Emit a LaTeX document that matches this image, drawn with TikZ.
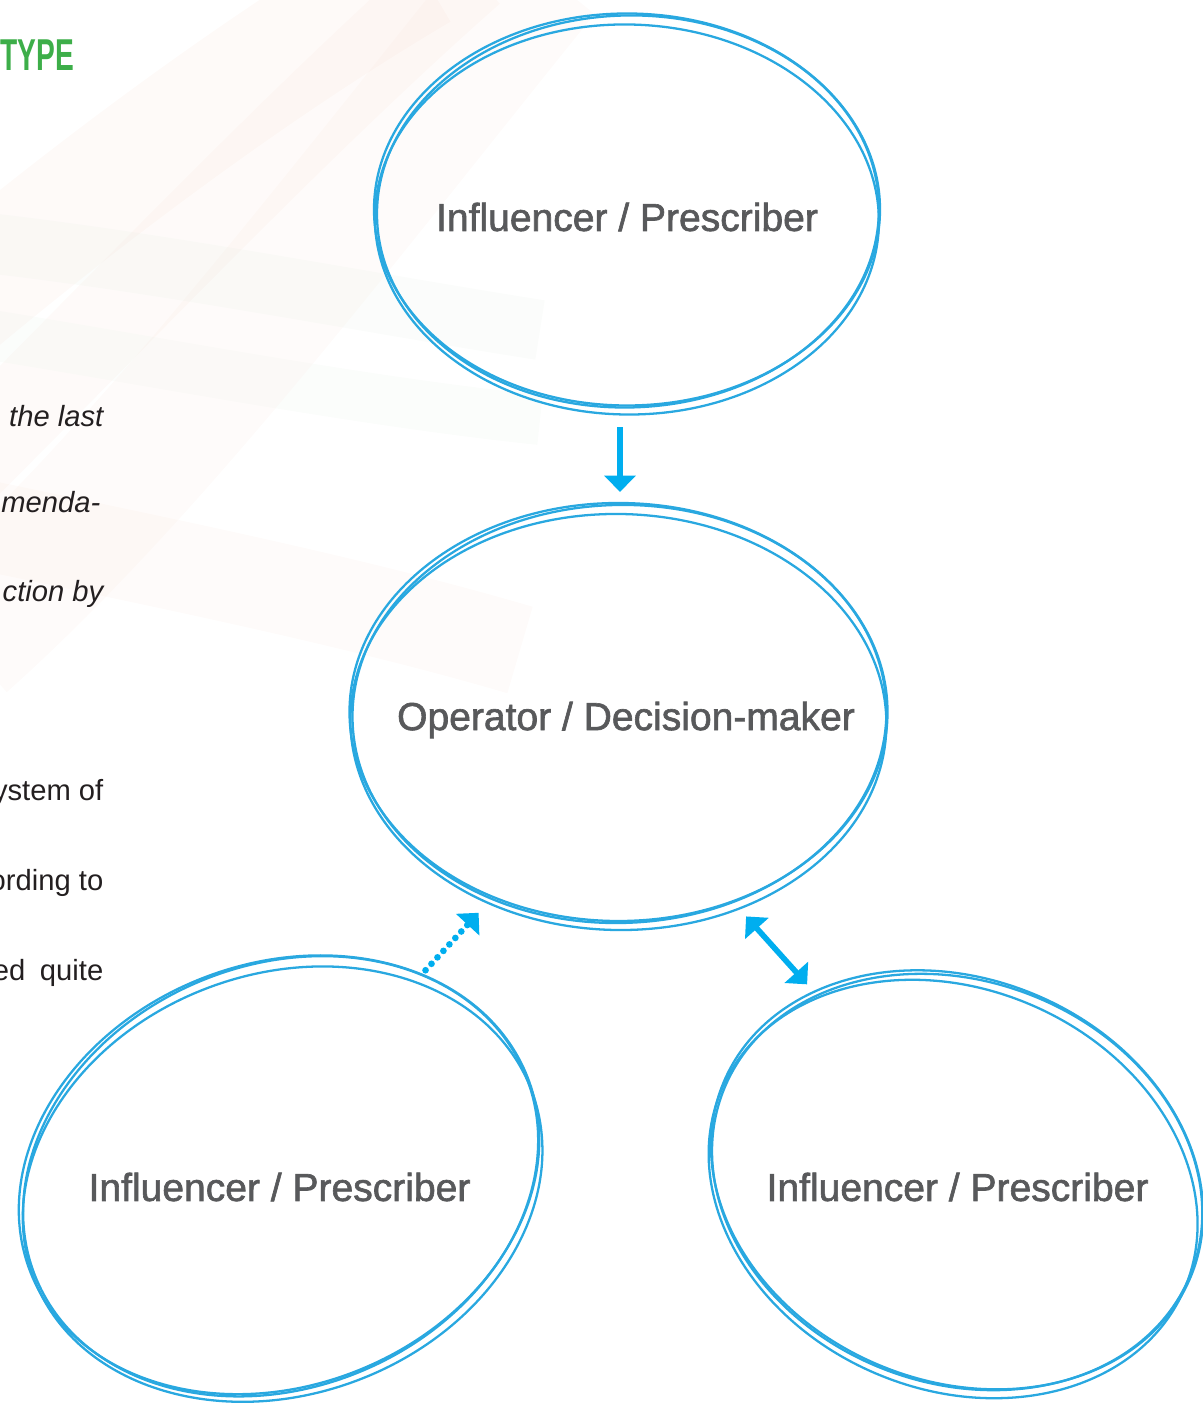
\documentclass[tikz,border=0pt]{standalone}
\usepackage{fontspec}
\setmainfont{Liberation Sans}
\newfontface\tagface{Liberation Sans}[FakeBold=1.6]
\usetikzlibrary{shapes.geometric, arrows.meta}

\definecolor{ringblue}{HTML}{29A8E0}
\definecolor{arrowblue}{HTML}{00AEEF}
\definecolor{labelgray}{HTML}{58595B}
\definecolor{bodytext}{HTML}{231F20}
\definecolor{typegreen}{HTML}{3DAE49}
\definecolor{swpink}{HTML}{F6D9CD}
\definecolor{swgreen}{HTML}{DCEADC}

\tikzset{
  ring/.style={ellipse, inner sep=0pt, outer sep=0pt},
  rim/.style={draw=ringblue, line width=0.65pt},
  tag/.style={text=labelgray, font=\tagface\fontsize{11.1}{13}\selectfont},
  body/.style={anchor=base east, inner sep=0pt, text=bodytext, font=\fontsize{8.3}{10}\selectfont},
  bodyit/.style={body, font=\fontsize{8.3}{10}\selectfont\itshape},
  flow/.style={draw=arrowblue, line width=1.6pt, -{Triangle[width=8.8pt,length=4.6pt]}},
  hint/.style={flow, line width=1.9pt, line cap=round, dash pattern=on 0pt off 2.5pt},
  both/.style={draw=arrowblue, line width=1.6pt, {Triangle[width=8.8pt,length=4.6pt]}-{Triangle[width=8.8pt,length=4.6pt]}}
}

\begin{document}
\begin{tikzpicture}[x=0.01cm, y=-0.01cm]
\useasboundingbox (0,0) rectangle (1202,1404);

% faint swooshes behind the page text
\draw[swpink, opacity=0.14, line width=1.2cm] (-40,300) .. controls (80,200) and (250,70) .. (420,-30);
\draw[swpink, opacity=0.12, line width=0.9cm] (-40,470) .. controls (130,300) and (300,120) .. (470,-30);
\draw[swpink, opacity=0.1, line width=1.4cm] (-40,640) .. controls (150,470) and (330,230) .. (540,-30);
\draw[swgreen, opacity=0.12, line width=0.6cm] (-40,240) .. controls (150,260) and (350,300) .. (540,330);
\draw[swgreen, opacity=0.1, line width=0.5cm] (-40,330) .. controls (150,360) and (350,400) .. (540,420);
\draw[swpink, opacity=0.1, line width=0.9cm] (-40,520) .. controls (150,560) and (350,600) .. (520,650);

% page text cut off at the left
\node[anchor=west, inner sep=0pt, text=typegreen, font=\bfseries\fontsize{12.7}{14}\selectfont] (ttl) at (0,55) {\scalebox{0.63}[1]{TYPE}};
\node[bodyit] (ln1) at (104,427) {the last};
\node[bodyit] (ln2) at (101,513) {mmenda-};
\node[bodyit] (ln3) at (104,601) {ction by};
\node[body] (ln4) at (104,800) {ystem of};
\node[body] (ln5) at (104,890) {ording to};
\node[body] (ln6) at (104,980) {ed\enspace quite};

% roles
\node[ring, minimum width=5.08cm, minimum height=4.02cm, label={[tag, yshift=-0.035cm]center:Influencer / Prescriber}] (top) at (627,213.5) {};
\node[ring, minimum width=5.40cm, minimum height=4.28cm, label={[tag, xshift=0.075cm, yshift=-0.04cm]center:Operator / Decision-maker}] (mid) at (618.5,716) {};
\node[ring, minimum width=5.36cm, minimum height=4.32cm, label={[tag, xshift=-0.01cm, yshift=-0.085cm]center:Influencer / Prescriber}] (bl) at (280.5,1178.5) {};
\node[ring, minimum width=5.08cm, minimum height=4.12cm, label={[tag, xshift=0.02cm, yshift=-0.035cm]center:Influencer / Prescriber}] (br) at (955.5,1183.5) {};

% hand-drawn rims
\foreach \n/\rot/\rx/\ry in {top/0/254/201, mid/0/270/214, bl/21.5/268/216, br/-22.6/254/206}{
  \begin{scope}[shift={(\n.center)}, rotate=\rot]
    \draw[rim] (0,-4) ellipse [x radius=\rx-1, y radius=\ry-5];
    \draw[rim, rotate=-1] (0,6) ellipse [x radius=\rx-2, y radius=\ry-6];
    \draw[rim, rotate=1.5] (1,-2) ellipse [x radius=\rx-3, y radius=\ry-5];
  \end{scope}
}

\draw[flow, shorten <=0.126cm, shorten >=0.1cm] (top.268) -- (top.268 |- mid.north);
\draw[hint, shorten <=0.25cm, shorten >=0.13cm] (bl.56) -- (mid.235);
\draw[both, shorten <=0.115cm, shorten >=0.29cm] (mid.302) -- (br.126);
\end{tikzpicture}
\end{document}
